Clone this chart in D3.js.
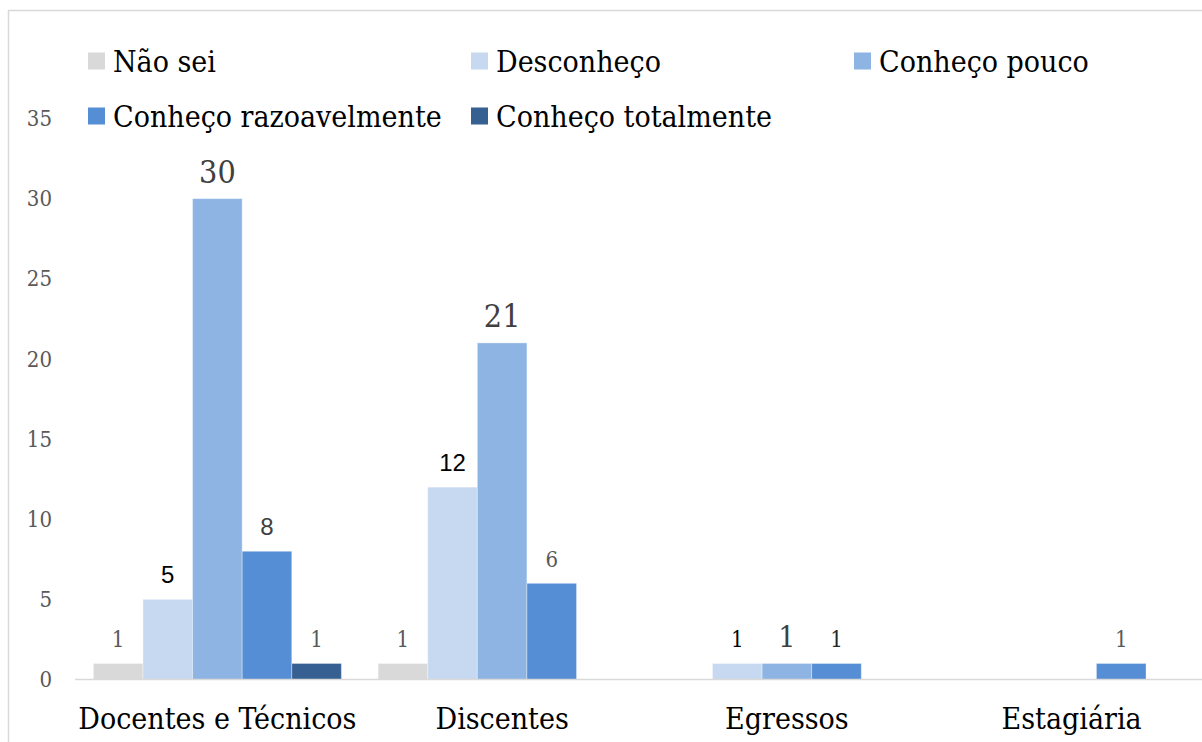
<!DOCTYPE html>
<html>
<head>
<meta charset="utf-8">
<script src="https://cdn.jsdelivr.net/npm/d3@7/dist/d3.min.js"></script>
<style>
  body { margin: 0; background: #fff; }
  svg { display: block; }
  .serif { font-family: "DejaVu Serif Condensed", "DejaVu Serif", serif; font-stretch: condensed; }
  .sans { font-family: "Liberation Sans", Arial, sans-serif; }
</style>
</head>
<body>
<div id="chart"></div>
<script>
// data
var categories = ["Docentes e Técnicos", "Discentes", "Egressos", "Estagiária"]
var seriesNames = ["Não sei", "Desconheço", "Conheço pouco", "Conheço razoavelmente", "Conheço totalmente"]
var naoSei = [1, 1, 0, 0]
var desconheco = [5, 12, 1, 0]
var conhecoPouco = [30, 21, 1, 0]
var conhecoRazoavel = [8, 6, 1, 1]
var conhecoTotal = [1, 0, 0, 0]
var yTicks = [0, 5, 10, 15, 20, 25, 30, 35]

var seriesValues = [naoSei, desconheco, conhecoPouco, conhecoRazoavel, conhecoTotal]
var colors = ["#d9d9d9", "#c6d9f1", "#8eb4e3", "#558ed5", "#376092"]

// label looks differ per bar in the original
var labelStyle = {
  "0-1": { cls: "sans", size: 24, fill: "#000" },
  "0-2": { cls: "serif", size: 32, fill: "#404040" },
  "0-3": { cls: "sans", size: 24, fill: "#404040" },
  "1-1": { cls: "sans", size: 24, fill: "#000" },
  "1-2": { cls: "serif", size: 32, fill: "#404040" },
  "2-1": { cls: "serif", size: 22, fill: "#000" },
  "2-2": { cls: "serif", size: 30, fill: "#404040" },
  "2-3": { cls: "serif", size: 22, fill: "#262626" }
}
var defaultLabel = { cls: "serif", size: 22, fill: "#595959" }

var width = 1202,
  height = 742

var svg = d3.select("#chart").append("svg")
  .attr("width", width)
  .attr("height", height)

// chart border
svg.append("rect")
  .attr("x", 8.5).attr("y", 10.5)
  .attr("width", 1300).attr("height", 800)
  .attr("fill", "none")
  .attr("stroke", "#d9d9d9")
  .attr("stroke-width", 1.5)

var x0 = d3.scaleBand()
  .domain(categories)
  .range([75, 1214])
  .paddingInner(0.129)
  .paddingOuter(0.0645)

var x1 = d3.scaleBand()
  .domain(seriesNames)
  .range([0, x0.bandwidth()])

var y = d3.scaleLinear()
  .domain([0, 35])
  .range([679.5, 118.5])

// y tick labels
svg.append("g").selectAll("text")
  .data(yTicks)
  .enter().append("text")
  .attr("class", "serif")
  .attr("x", 52)
  .attr("y", function (d) { return y(d) })
  .attr("dy", "0.35em")
  .attr("text-anchor", "end")
  .attr("font-size", 22)
  .attr("fill", "#595959")
  .text(function (d) { return d })

// bars
var rows = []
categories.forEach(function (c, ci) {
  seriesNames.forEach(function (s, si) {
    rows.push({ cat: c, ci: ci, series: s, si: si, value: seriesValues[si][ci] })
  })
})

svg.append("g").selectAll("rect")
  .data(rows.filter(function (d) { return d.value > 0 }))
  .enter().append("rect")
  .attr("x", function (d) { return x0(d.cat) + x1(d.series) })
  .attr("y", function (d) { return y(d.value) })
  .attr("width", x1.bandwidth())
  .attr("height", function (d) { return y(0) - y(d.value) })
  .attr("fill", function (d) { return colors[d.si] })
  .attr("stroke", "rgba(255,255,255,0.35)")
  .attr("stroke-width", 1)

// x axis line
svg.append("line")
  .attr("x1", 75).attr("x2", width)
  .attr("y1", y(0)).attr("y2", y(0))
  .attr("stroke", "#d9d9d9")
  .attr("stroke-width", 1.5)

// value labels
svg.append("g").selectAll("text")
  .data(rows.filter(function (d) { return d.value > 0 }))
  .enter().append("text")
  .attr("class", function (d) { return (labelStyle[d.ci + "-" + d.si] || defaultLabel).cls })
  .attr("x", function (d) { return x0(d.cat) + x1(d.series) + x1.bandwidth() / 2 })
  .attr("y", function (d) { return y(d.value) - 16 })
  .attr("text-anchor", "middle")
  .attr("font-size", function (d) { return (labelStyle[d.ci + "-" + d.si] || defaultLabel).size })
  .attr("fill", function (d) { return (labelStyle[d.ci + "-" + d.si] || defaultLabel).fill })
  .text(function (d) { return d.value })

// category labels
svg.append("g").selectAll("text")
  .data(categories)
  .enter().append("text")
  .attr("class", "serif")
  .attr("x", function (d) { return x0(d) + x0.bandwidth() / 2 })
  .attr("y", 729)
  .attr("text-anchor", "middle")
  .attr("font-size", 30)
  .attr("fill", "#000")
  .text(function (d) { return d })

// legend
var legendX = [88, 471, 854]
var legend = svg.append("g").selectAll("g")
  .data(seriesNames)
  .enter().append("g")
  .attr("transform", function (d, i) {
    return "translate(" + legendX[i % 3] + "," + (i < 3 ? 61 : 116) + ")"
  })

legend.append("rect")
  .attr("x", 0).attr("y", -8.5)
  .attr("width", 17).attr("height", 17)
  .attr("fill", function (d, i) { return colors[i] })

legend.append("text")
  .attr("class", "serif")
  .attr("x", 25)
  .attr("dy", "0.35em")
  .attr("font-size", 30)
  .attr("fill", "#000")
  .text(function (d) { return d })
</script>
</body>
</html>
